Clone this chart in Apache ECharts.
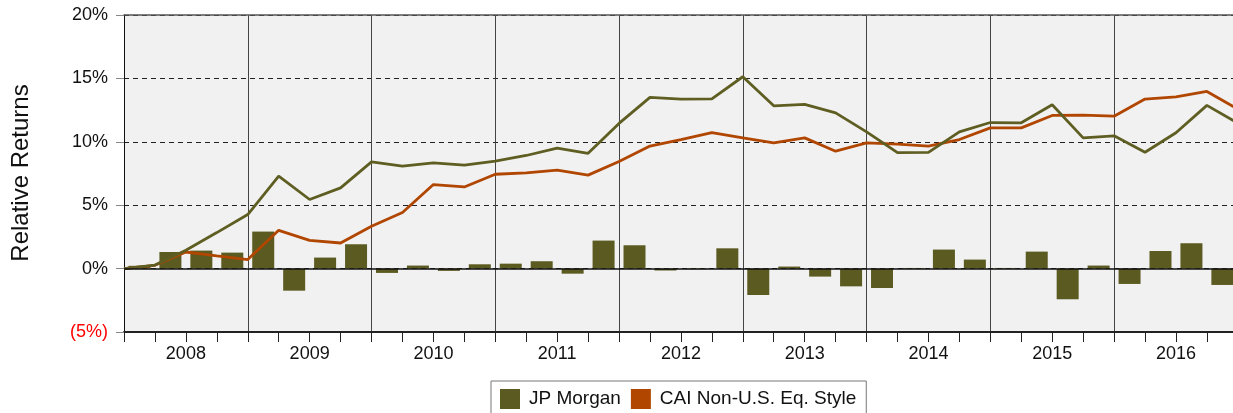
<!DOCTYPE html>
<html>
<head>
<meta charset="utf-8">
<script src="https://cdn.jsdelivr.net/npm/echarts@6/dist/echarts.min.js"></script>
<style>
  html, body { margin: 0; padding: 0; background: #ffffff; }
  #chart { width: 1233px; height: 413px; }
</style>
</head>
<body>
<div id="chart"></div>
<script>
// Quarterly relative returns, Q1 2008 .. Q4 2016
const years = ['2008', '2009', '2010', '2011', '2012', '2013', '2014', '2015', '2016'];
const yTickLabels = { '-5': '(5%)', '0': '0%', '5': '5%', '10': '10%', '15': '15%', '20': '20%' };

// Quarterly relative return of the manager (bars, one per quarter)
const jpMorganQuarterly = [
  0.22, 1.31, 1.42, 1.26, 2.92, -1.74, 0.87, 1.92, -0.34, 0.24, -0.18, 0.34,
  0.39, 0.58, -0.40, 2.21, 1.84, -0.15, -0.05, 1.60, -2.08, 0.16, -0.63, -1.40,
  -1.53, 0.05, 1.50, 0.71, 0.05, 1.34, -2.42, 0.24, -1.21, 1.39, 2.00, -1.29
];

// Cumulative relative returns at each quarter end (37 points, starting at 0)
const jpMorganCumulative = [
  0, 0.28, 1.45, 2.84, 4.26, 7.29, 5.45, 6.37, 8.42, 8.08, 8.34, 8.16, 8.47,
  8.92, 9.50, 9.09, 11.45, 13.50, 13.37, 13.39, 15.13, 12.84, 12.95, 12.28, 10.78,
  9.14, 9.16, 10.78, 11.52, 11.50, 12.92, 10.31, 10.47, 9.18, 10.71, 12.87, 11.48
];
const caiNonUSCumulative = [
  0, 0.26, 1.31, 1.00, 0.71, 3.02, 2.23, 2.02, 3.34, 4.42, 6.63, 6.44, 7.44,
  7.55, 7.76, 7.37, 8.45, 9.66, 10.18, 10.73, 10.31, 9.92, 10.31, 9.26, 9.92,
  9.81, 9.66, 10.18, 11.10, 11.10, 12.08, 12.10, 12.02, 13.37, 13.55, 13.97, 12.58
];

const GREEN_BAR = '#5b5a20';
const GREEN_LINE = '#5f5e22';
const ORANGE = '#b04600';
const FONT = 'Arial, "Liberation Sans", sans-serif';

// The plot runs past the right edge of the page: the visible part ends
// a little before the last quarter end.
const GRID_LEFT = 124;
const GRID_WIDTH = 1109;
const QUARTER_PX = 30.94;
const X_MAX = GRID_WIDTH / QUARTER_PX;

// year separators every 4 quarters; the tick at the clipped edge stays invisible
const sepColors = [];
for (let v = 0; v < X_MAX; v += 4) sepColors.push('#444');
sepColors.push('rgba(0,0,0,0)');

const chart = echarts.init(document.getElementById('chart'), null, { renderer: 'canvas' });

chart.setOption({
  animation: false,
  textStyle: { fontFamily: FONT },
  grid: {
    left: GRID_LEFT, top: 15, width: GRID_WIDTH, height: 317,
    show: true, backgroundColor: '#f1f1f1', borderWidth: 0
  },
  graphic: [{
    type: 'text',
    x: 21, y: 173,
    rotation: Math.PI / 2,
    style: {
      text: 'Relative Returns',
      font: '24px ' + FONT,
      fill: '#111',
      align: 'center',
      verticalAlign: 'middle'
    }
  }],
  legend: {
    left: 491, top: 381,
    padding: [8, 10, 8, 9],
    itemGap: 10,
    itemWidth: 20, itemHeight: 20,
    backgroundColor: '#ffffff',
    borderColor: '#777', borderWidth: 1, borderRadius: 0,
    textStyle: { fontSize: 19, color: '#111', fontFamily: FONT, padding: [0, 0, 0, 4] },
    data: [
      { name: 'JP Morgan', icon: 'rect', itemStyle: { color: GREEN_BAR, borderWidth: 0 } },
      { name: 'CAI Non-U.S. Eq. Style', icon: 'rect', itemStyle: { color: ORANGE, borderWidth: 0 } }
    ]
  },
  xAxis: [{
    type: 'value', min: 0, max: X_MAX, interval: 1,
    axisLine: { show: true, onZero: false, lineStyle: { color: '#222', width: 2 } },
    axisTick: { show: true, length: 10, lineStyle: { color: '#222', width: 1 } },
    axisLabel: {
      fontSize: 18, color: '#111', margin: 13, fontFamily: FONT,
      showMaxLabel: false,
      formatter: function (v) {
        return (v % 4 === 2) ? years[(v - 2) / 4] : '';
      }
    },
    splitLine: { show: false }
  }, {
    // year separators
    type: 'value', min: 0, max: X_MAX, interval: 4, position: 'bottom',
    axisLine: { show: false }, axisTick: { show: false }, axisLabel: { show: false },
    splitLine: { show: true, lineStyle: { color: sepColors, width: 1 } }
  }, {
    // top border of the plot
    type: 'value', min: 0, max: X_MAX, position: 'top',
    axisLine: { show: true, onZero: false, lineStyle: { color: '#555', width: 1.5 } },
    axisTick: { show: false }, axisLabel: { show: false }, splitLine: { show: false }
  }],
  yAxis: {
    type: 'value', min: -5, max: 20, interval: 5,
    axisLine: { show: true, lineStyle: { color: '#111', width: 1 } },
    axisTick: { show: true, length: 8, lineStyle: { color: '#888' } },
    axisLabel: {
      fontSize: 18, color: '#111', margin: 16, fontFamily: FONT,
      formatter: function (v) {
        const t = yTickLabels[String(v)];
        return v < 0 ? '{neg|' + t + '}' : t;
      },
      rich: { neg: { color: '#ff0000', fontSize: 18, fontFamily: FONT } }
    },
    splitLine: { show: true, lineStyle: { color: '#222', type: [5, 4], width: 1 } }
  },
  series: [{
    name: 'JP Morgan',
    type: 'bar',
    barWidth: 22,
    data: jpMorganQuarterly.map((v, i) => [i + 0.5, v]),
    itemStyle: { color: GREEN_BAR },
    markLine: {
      silent: true, symbol: 'none', z: 5,
      label: { show: false },
      lineStyle: { color: '#111', type: 'solid', width: 1.5 },
      data: [{ yAxis: 0 }]
    },
    z: 2
  }, {
    name: 'JP Morgan',
    type: 'line',
    data: jpMorganCumulative.map((v, i) => [i, v]),
    showSymbol: false,
    clip: true,
    lineStyle: { color: GREEN_LINE, width: 2.8 },
    itemStyle: { color: GREEN_BAR },
    z: 4
  }, {
    name: 'CAI Non-U.S. Eq. Style',
    type: 'line',
    data: caiNonUSCumulative.map((v, i) => [i, v]),
    showSymbol: false,
    clip: true,
    lineStyle: { color: ORANGE, width: 2.8 },
    itemStyle: { color: ORANGE },
    z: 3
  }]
});
</script>
</body>
</html>
